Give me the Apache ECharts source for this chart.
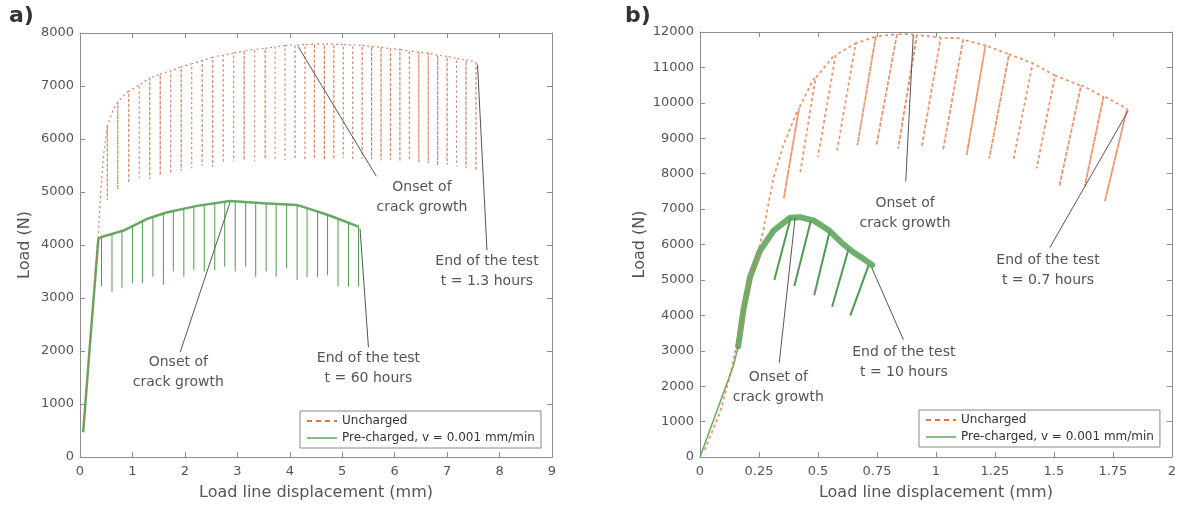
<!DOCTYPE html>
<html>
<head>
<meta charset="utf-8">
<script src="https://cdn.jsdelivr.net/npm/echarts@6/dist/echarts.min.js"></script>
<style>
  html, body { margin: 0; padding: 0; background: #fff; }
  #chart { width: 1179px; height: 506px; }
</style>
</head>
<body>
<div id="chart"></div>
<script>
// ---- panel a) : load vs displacement, 0-9 mm ----
var aUnchEnvX = [0.06, 0.2, 0.35, 0.38, 0.45, 0.51, 0.64, 0.89, 1.34, 1.97, 2.6, 3.24, 4.0, 4.77, 5.4, 6.04, 6.67, 7.5, 7.55];
var aUnchEnvY = [465, 2300, 4200, 4770, 5700, 6134, 6567, 6878, 7157, 7373, 7560, 7684, 7777, 7789, 7764, 7696, 7622, 7466, 7450];
var aUnchCycX = [0.52, 0.72, 0.93, 1.13, 1.33, 1.53, 1.73, 1.93, 2.13, 2.33, 2.53, 2.73, 2.93, 3.13, 3.33, 3.53, 3.72, 3.91, 4.10, 4.29,
                 4.47, 4.66, 4.84, 5.02, 5.20, 5.38, 5.56, 5.74, 5.92, 6.10, 6.28, 6.46, 6.64, 6.82, 7.00, 7.18, 7.36, 7.55];
var aUnchCycPeak = [6250, 6700, 6900, 7020, 7150, 7220, 7290, 7360, 7420, 7480, 7540, 7580, 7620, 7660, 7690, 7710, 7740, 7760, 7770, 7780,
                    7790, 7790, 7790, 7780, 7775, 7765, 7745, 7730, 7705, 7690, 7660, 7640, 7620, 7580, 7560, 7520, 7490, 7450];
var aUnchCycValley = [4850, 5050, 5170, 5270, 5250, 5320, 5350, 5400, 5450, 5500, 5480, 5550, 5570, 5600, 5580, 5620, 5600, 5610, 5620, 5600,
                      5630, 5610, 5620, 5640, 5600, 5630, 5620, 5600, 5610, 5580, 5600, 5560, 5540, 5500, 5520, 5480, 5450, 5400];

var aPreEnvX = [0.06, 0.2, 0.35, 0.41, 0.83, 1.27, 1.65, 2.23, 2.86, 3.5, 4.13, 4.39, 4.77, 5.31];
var aPreEnvY = [470, 2250, 4117, 4150, 4273, 4490, 4614, 4738, 4831, 4787, 4757, 4676, 4552, 4347];
var aPreCycX = [0.41, 0.61, 0.80, 1.00, 1.19, 1.39, 1.59, 1.78, 1.98, 2.17, 2.37, 2.57, 2.76, 2.96, 3.16, 3.35, 3.55, 3.74, 3.94, 4.14,
                4.33, 4.53, 4.72, 4.92, 5.12, 5.31];
var aPreCycPeak = [4150, 4200, 4270, 4360, 4450, 4520, 4600, 4640, 4690, 4730, 4760, 4790, 4820, 4830, 4810, 4790, 4780, 4770, 4760, 4750,
                   4690, 4620, 4560, 4490, 4420, 4350];
var aPreCycValley = [3220, 3110, 3190, 3280, 3280, 3400, 3250, 3500, 3400, 3530, 3500, 3530, 3590, 3500, 3590, 3400, 3500, 3400, 3560, 3340,
                     3390, 3400, 3430, 3220, 3220, 3220];

// ---- panel b) : load vs displacement, 0-2 mm ----
var bUnchEnvX = [0.02, 0.085, 0.127, 0.198, 0.268, 0.311, 0.353, 0.41, 0.48, 0.565, 0.664, 0.763, 0.876, 0.918, 1.1, 1.2, 1.314, 1.412, 1.511, 1.624, 1.723, 1.815];
var bUnchEnvY = [200, 1265, 2288, 4521, 6382, 7870, 8800, 9730, 10660, 11312, 11684, 11888, 11944, 11916, 11823, 11637, 11358, 11126, 10753, 10474, 10149, 9823];
var bUnchCycX = [0.42, 0.49, 0.575, 0.66, 0.745, 0.835, 0.92, 1.02, 1.115, 1.21, 1.31, 1.41, 1.505, 1.615, 1.71, 1.81];
var bUnchCycPeak = [9850, 10700, 11350, 11680, 11870, 11940, 11920, 11840, 11780, 11620, 11370, 11120, 10770, 10480, 10170, 9830];
var bUnchCycValleyX = [0.355, 0.424, 0.50, 0.58, 0.667, 0.748, 0.84, 0.94, 1.03, 1.13, 1.226, 1.328, 1.427, 1.523, 1.631, 1.716];
var bUnchCycValley = [7300, 8000, 8470, 8610, 8800, 8800, 8710, 8750, 8660, 8520, 8430, 8380, 8150, 7640, 7640, 7220];

// thin initial loading, then the noisy thick band after ~3000 N
var bPreRiseX = [0, 0.085, 0.141, 0.162];
var bPreRiseY = [0, 1545, 2567, 3125];
var bPreEnvX = [0.162, 0.184, 0.212, 0.254, 0.311, 0.381, 0.424, 0.48, 0.508, 0.55, 0.6, 0.65, 0.7, 0.73];
var bPreEnvY = [3125, 4150, 5079, 5824, 6382, 6753, 6772, 6680, 6567, 6380, 6050, 5780, 5560, 5420];
var bPreCycX = [0.385, 0.47, 0.55, 0.63, 0.715];
var bPreCycPeak = [6770, 6680, 6380, 5880, 5420];
var bPreCycValleyX = [0.315, 0.40, 0.484, 0.56, 0.637];
var bPreCycValley = [5000, 4830, 4570, 4240, 3990];

var UNCH = 'Uncharged';
var PRE = 'Pre-charged, v = 0.001 mm/min';
var FONT = 'DejaVu Sans';
var ORANGE_A = '#c8643c';
var ORANGE_B = '#e8703c';
var GREEN = '#3f8f3f';
var GREEN_BAND = '#55a055';

function zip(xs, ys) {
    return xs.map(function (x, i) { return [x, ys[i]]; });
}

// envelope with the unload/reload cycles spliced in, in displacement order
function withCycles(envX, envY, cycX, cycPeak, cycVX, cycV) {
    var pts = [], j = 0;
    for (var i = 0; i < envX.length; i++) {
        while (j < cycX.length && cycX[j] <= envX[i]) {
            pts.push([cycX[j], cycPeak[j]], [cycVX[j], cycV[j]], [cycX[j], cycPeak[j]]);
            j++;
        }
        pts.push([envX[i], envY[i]]);
    }
    for (; j < cycX.length; j++) {
        pts.push([cycX[j], cycPeak[j]], [cycVX[j], cycV[j]], [cycX[j], cycPeak[j]]);
    }
    return pts;
}

// unload lines only, broken between cycles
function cycles(cycX, cycPeak, cycVX, cycV) {
    var pts = [];
    for (var i = 0; i < cycX.length; i++) {
        pts.push([cycX[i], cycPeak[i]], [cycVX[i], cycV[i]], [cycX[i], '-']);
    }
    return pts;
}

function arrows(list) {
    return {
        silent: true,
        symbol: ['none', 'arrow'],
        symbolSize: [0, 9],
        label: {show: false},
        lineStyle: {color: '#555', width: 1, type: 'solid'},
        emphasis: {disabled: true},
        data: list.map(function (a) { return [{coord: a[0]}, {coord: a[1]}]; })
    };
}

function notes(list) {
    return {
        silent: true,
        symbol: 'rect',
        symbolSize: 1,
        itemStyle: {color: 'rgba(0,0,0,0)'},
        label: {
            show: true, position: 'inside', formatter: '{b}',
            color: '#555', fontFamily: FONT, fontSize: 14, lineHeight: 20, align: 'center'
        },
        data: list.map(function (n) { return {name: n[1], coord: n[0]}; })
    };
}

function axisBase() {
    return {
        axisLine: {show: true, onZero: false, lineStyle: {color: '#8c8c8c', width: 1}},
        axisTick: {show: true, inside: true, length: 5, lineStyle: {color: '#8c8c8c'}},
        splitLine: {show: false}
    };
}

function xAx(grid, max, interval, main) {
    return Object.assign(axisBase(), {
        type: 'value', gridIndex: grid, min: 0, max: max, interval: interval,
        position: main ? 'bottom' : 'top',
        axisLabel: {show: main, color: '#555', fontFamily: FONT, fontSize: 13, margin: 8,
                    formatter: function (v) { return String(v); }},
        name: main ? 'Load line displacement (mm)' : '',
        nameLocation: 'middle', nameGap: 28,
        nameTextStyle: {color: '#555', fontFamily: FONT, fontSize: 16}
    });
}

function yAx(grid, max, interval, main, gap) {
    return Object.assign(axisBase(), {
        type: 'value', gridIndex: grid, min: 0, max: max, interval: interval,
        position: main ? 'left' : 'right',
        axisLabel: {show: main, color: '#555', fontFamily: FONT, fontSize: 13, margin: 6,
                    formatter: function (v) { return String(v); }},
        name: main ? 'Load (N)' : '',
        nameLocation: 'middle', nameGap: gap, nameRotate: 90,
        nameTextStyle: {color: '#555', fontFamily: FONT, fontSize: 16}
    });
}

function legend(left, top) {
    return {
        orient: 'vertical', left: left, top: top,
        backgroundColor: '#fff', borderColor: '#888', borderWidth: 1, borderRadius: 0,
        padding: [4, 6], itemGap: 5, itemWidth: 30, itemHeight: 14,
        selectedMode: false,
        textStyle: {color: '#333', fontFamily: FONT, fontSize: 12},
        data: [
            {name: UNCH, itemStyle: {opacity: 0}, lineStyle: {color: ORANGE_B, width: 2, type: [5, 4], opacity: 1}},
            {name: PRE, itemStyle: {opacity: 0}, lineStyle: {color: GREEN, width: 1.2, type: 'solid', opacity: 1}}
        ]
    };
}

var chart = echarts.init(document.getElementById('chart'), null, {renderer: 'canvas'});
chart.setOption({
    animation: false,
    backgroundColor: '#fff',
    textStyle: {fontFamily: FONT},
    grid: [
        {left: 80, top: 33, width: 472, height: 430},
        {left: 700, top: 32, width: 472, height: 430}
    ],
    xAxis: [xAx(0, 9, 1, true), xAx(0, 9, 1, false), xAx(1, 2, 0.25, true), xAx(1, 2, 0.25, false)],
    yAxis: [yAx(0, 8000, 1000, true, 47), yAx(0, 8000, 1000, false, 0),
            yAx(1, 12000, 1000, true, 52), yAx(1, 12000, 1000, false, 0)],
    legend: [legend(300, 411), legend(919, 410)],
    graphic: [
        {type: 'text', left: 9, top: 5, style: {text: 'a)', font: 'bold 22px "DejaVu Sans"', fill: '#333'}},
        {type: 'text', left: 625, top: 5, style: {text: 'b)', font: 'bold 22px "DejaVu Sans"', fill: '#333'}}
    ],
    series: [
        // ---- a) pre-charged ----
        {
            name: PRE, type: 'line', xAxisIndex: 0, yAxisIndex: 0, symbol: 'none',
            itemStyle: {color: GREEN},
            lineStyle: {color: GREEN, width: 1, opacity: 0.9},
            data: cycles(aPreCycX, aPreCycPeak, aPreCycX, aPreCycValley)
        },
        {
            name: PRE, type: 'line', xAxisIndex: 0, yAxisIndex: 0, symbol: 'none',
            itemStyle: {color: GREEN},
            lineStyle: {color: GREEN_BAND, width: 2.5, opacity: 0.9},
            data: zip(aPreEnvX, aPreEnvY),
            markLine: arrows([[[1.91, 1977], [2.86, 4800]], [[5.50, 2070], [5.34, 4303]]]),
            markPoint: notes([[[1.875, 1600], 'Onset of\ncrack growth'], [[5.50, 1669], 'End of the test\nt = 60 hours']])
        },
        // ---- a) uncharged ----
        {
            name: UNCH, type: 'line', xAxisIndex: 0, yAxisIndex: 0, symbol: 'none',
            itemStyle: {color: ORANGE_A},
            lineStyle: {color: ORANGE_A, width: 1.2, type: [2, 3], opacity: 0.8},
            data: withCycles(aUnchEnvX, aUnchEnvY, aUnchCycX, aUnchCycPeak, aUnchCycX, aUnchCycValley),
            markLine: arrows([[[5.65, 5297], [4.16, 7745]], [[7.76, 3901], [7.58, 7405]]]),
            markPoint: notes([[[6.52, 4902], 'Onset of\ncrack growth'], [[7.76, 3498], 'End of the test\nt = 1.3 hours']])
        },
        // ---- b) pre-charged ----
        {
            name: PRE, type: 'line', xAxisIndex: 2, yAxisIndex: 2, symbol: 'none',
            itemStyle: {color: GREEN},
            lineStyle: {color: GREEN, width: 2, opacity: 0.9},
            data: cycles(bPreCycX, bPreCycPeak, bPreCycValleyX, bPreCycValley)
        },
        {
            name: PRE, type: 'line', xAxisIndex: 2, yAxisIndex: 2, symbol: 'none',
            itemStyle: {color: GREEN},
            lineStyle: {color: GREEN_BAND, width: 1.5, opacity: 0.9},
            data: zip(bPreRiseX, bPreRiseY)
        },
        {
            name: PRE, type: 'line', xAxisIndex: 2, yAxisIndex: 2, symbol: 'none',
            itemStyle: {color: GREEN},
            lineStyle: {color: GREEN_BAND, width: 6, opacity: 0.85, cap: 'round', join: 'round'},
            data: zip(bPreEnvX, bPreEnvY),
            markLine: arrows([[[0.336, 2660], [0.403, 6753]], [[0.862, 3312], [0.727, 5358]]]),
            markPoint: notes([[[0.332, 1962], 'Onset of\ncrack growth'], [[0.864, 2660], 'End of the test\nt = 10 hours']])
        },
        // ---- b) uncharged ----
        {
            name: UNCH, type: 'line', xAxisIndex: 2, yAxisIndex: 2, symbol: 'none',
            itemStyle: {color: ORANGE_B},
            lineStyle: {color: ORANGE_B, width: 1.8, type: [3, 3], opacity: 0.75},
            data: withCycles(bUnchEnvX, bUnchEnvY, bUnchCycX, bUnchCycPeak, bUnchCycValleyX, bUnchCycValley),
            markLine: arrows([[[0.872, 7777], [0.904, 11916]], [[1.483, 5916], [1.815, 9777]]]),
            markPoint: notes([[[0.869, 6893], 'Onset of\ncrack growth'], [[1.475, 5274], 'End of the test\nt = 0.7 hours']])
        }
    ]
});
</script>
</body>
</html>
